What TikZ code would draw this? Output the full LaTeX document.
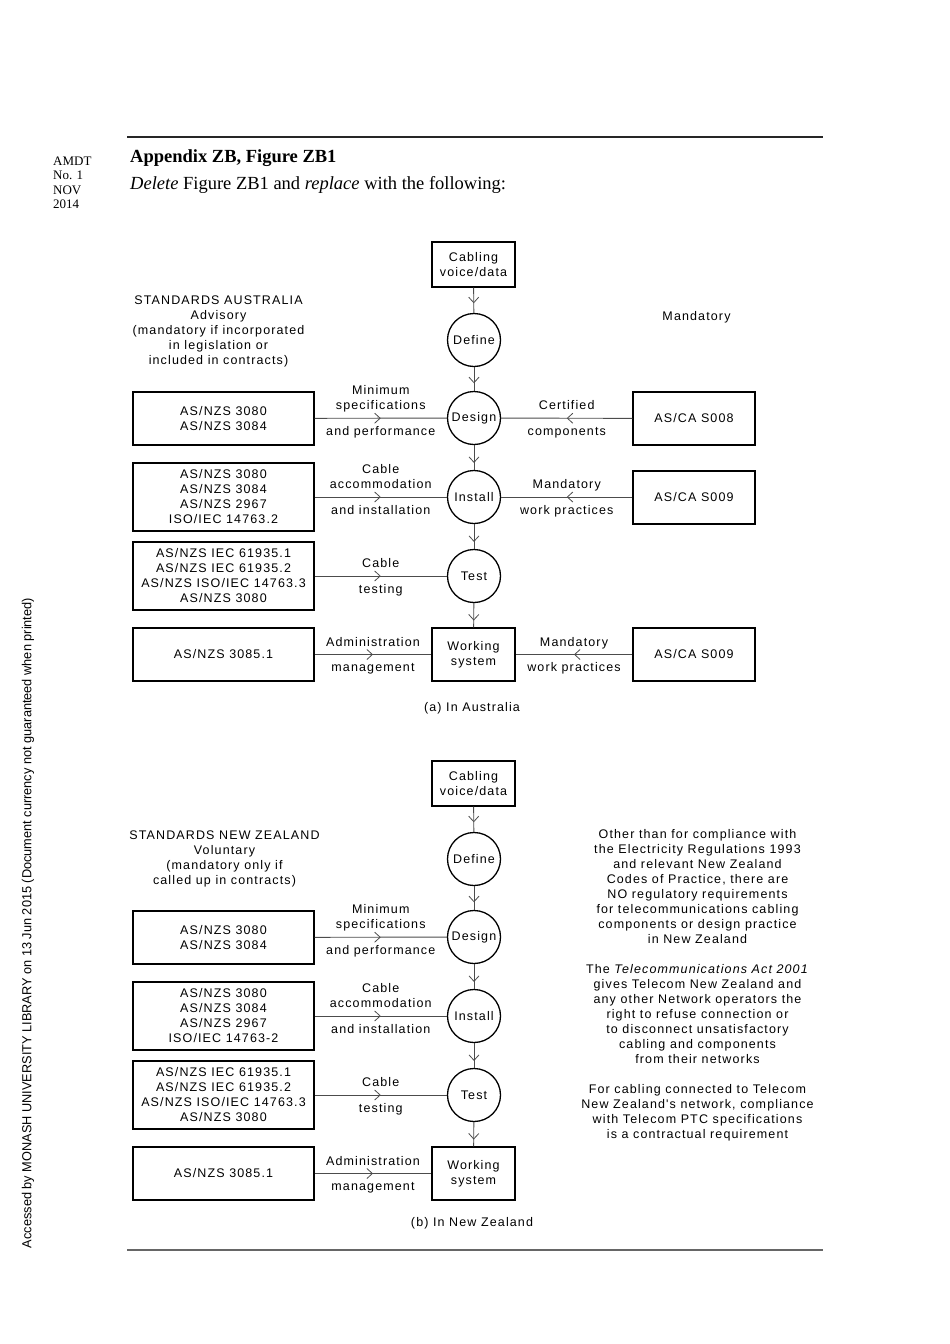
\documentclass[tikz,border=0pt]{standalone}
\usepackage{fontspec}
\setmainfont{Liberation Serif}
\newfontfamily\diag[LetterSpace=9]{Liberation Sans}
\newfontfamily\side{Liberation Sans}
\usetikzlibrary{arrows.meta,decorations.markings}
\tikzset{
  dfont/.style={font=\diag\fontsize{12.5}{15}\selectfont},
  boxnode/.style={draw=black, line width=1.3pt, dfont, align=center, inner sep=0pt},
  circnode/.style={draw=black, line width=1.3pt, circle, minimum size=53pt, inner sep=0pt, dfont},
  conn/.style={draw=black!70, line width=0.9pt},
  midarrow/.style={postaction={decorate}, decoration={markings,
     mark=at position #1 with {\arrow{Straight Barb[length=5.5pt,width=10pt,line width=0.8pt]}}}},
  lblup/.style={dfont, align=center, anchor=south, inner sep=0pt, text depth=3pt, yshift=5pt},
  lbldn/.style={dfont, anchor=north, inner sep=0pt, text height=9pt, text depth=3pt, yshift=-8pt},
  plain/.style={dfont, align=center, inner sep=0pt},
}
\begin{document}
\begin{tikzpicture}[x=1pt,y=-1pt]
\useasboundingbox (0,0) rectangle (950,1344);
% rules
\coordinate (rt1) at (127,137); \coordinate (rt2) at (823,137);
\coordinate (rb1) at (127,1250); \coordinate (rb2) at (823,1250);
\draw[line width=1.1pt, black!85] (rt1) -- (rt2);
\draw[line width=1.1pt, black!60] (rb1) -- (rb2);
% header
\node[anchor=north west, inner sep=0pt, align=left, font=\fontsize{13}{14.5}\selectfont] (amdt) at (53,156.5) {AMDT\\No. 1\\NOV\\2014};
\node[anchor=base west, inner sep=0pt, font=\fontsize{18.5}{20}\selectfont\bfseries] (title) at (130,162) {Appendix ZB, Figure ZB1};
\node[anchor=base west, inner sep=0pt, font=\fontsize{18.5}{20}\selectfont] (sub) at (130,189) {\textit{Delete} Figure ZB1 and \textit{replace} with the following:};
% side text
\node[rotate=90, inner sep=0pt, font=\side\fontsize{13}{14}\selectfont] (acc) at (28,923) {\resizebox{650pt}{9.5pt}{Accessed by MONASH UNIVERSITY LIBRARY on 13 Jun 2015 (Document currency not guaranteed when printed)}};

% ===== (a) Australia =====
\node[boxnode, minimum width=83pt, minimum height=45pt] (acab) at (473.5,264.5) {Cabling\\voice/data};
\node[circnode] (adef) at (474,340) {Define};
\node[circnode] (ades) at (474,418) {Design};
\node[circnode] (ains) at (474,497) {Install};
\node[circnode] (atst) at (474,576) {Test};
\node[boxnode, minimum width=83pt, minimum height=53pt] (aws) at (473.5,654.5) {Working\\system};
\node[boxnode, minimum width=181pt, minimum height=53pt] (al1) at (223.5,418.5) {AS/NZS 3080\\AS/NZS 3084};
\node[boxnode, minimum width=181pt, minimum height=68pt] (al2) at (223.5,497) {AS/NZS 3080\\AS/NZS 3084\\AS/NZS 2967\\ISO/IEC 14763.2};
\node[boxnode, minimum width=181pt, minimum height=68pt] (al3) at (223.5,576) {AS/NZS IEC 61935.1\\AS/NZS IEC 61935.2\\AS/NZS ISO/IEC 14763.3\\AS/NZS 3080};
\node[boxnode, minimum width=181pt, minimum height=53pt] (al4) at (223.5,654.5) {AS/NZS 3085.1};
\node[boxnode, minimum width=122pt, minimum height=53pt] (ar1) at (694,418.5) {AS/CA S008};
\node[boxnode, minimum width=122pt, minimum height=53pt] (ar2) at (694,497.5) {AS/CA S009};
\node[boxnode, minimum width=122pt, minimum height=53pt] (ar3) at (694,654.5) {AS/CA S009};
\node[plain] (ahead) at (218.5,331.5) {STANDARDS AUSTRALIA\\Advisory\\(mandatory if incorporated\\in legislation or\\included in contracts)};
\node[plain] (amand) at (696.5,317) {Mandatory};
\node[plain] (acap) at (472,708) {(a) In Australia};

\draw[conn, midarrow=0.62] (acab) -- (adef);
\draw[conn, midarrow=0.68] (adef) -- (ades);
\draw[conn, midarrow=0.72] (ades) -- (ains);
\draw[conn, midarrow=0.72] (ains) -- (atst);
\draw[conn, midarrow=0.72] (atst) -- (aws);
\draw[conn, midarrow=0.5] (al1) -- node[lblup]{Minimum\\specifications} node[lbldn]{and performance} (ades);
\draw[conn, midarrow=0.5] (al2.east |- ains) -- node[lblup]{Cable\\accommodation} node[lbldn]{and installation} (ains);
\draw[conn, midarrow=0.5] (al3) -- node[lblup]{Cable} node[lbldn]{testing} (atst);
\draw[conn, midarrow=0.5] (al4) -- node[lblup]{Administration} node[lbldn]{management} (aws);
\draw[conn, midarrow=0.5] (ar1) -- node[lblup]{Certified} node[lbldn]{components} (ades);
\draw[conn, midarrow=0.5] (ar2.west |- ains) -- node[lblup]{Mandatory} node[lbldn]{work practices} (ains);
\draw[conn, midarrow=0.5] (ar3) -- node[lblup]{Mandatory} node[lbldn]{work practices} (aws);

% ===== (b) New Zealand =====
\begin{scope}[yshift=-519pt]
\node[boxnode, minimum width=83pt, minimum height=45pt] (bcab) at (473.5,264.5) {Cabling\\voice/data};
\node[circnode] (bdef) at (474,340) {Define};
\node[circnode] (bdes) at (474,418) {Design};
\node[circnode] (bins) at (474,497) {Install};
\node[circnode] (btst) at (474,576) {Test};
\node[boxnode, minimum width=83pt, minimum height=53pt] (bws) at (473.5,654.5) {Working\\system};
\node[boxnode, minimum width=181pt, minimum height=53pt] (bl1) at (223.5,418.5) {AS/NZS 3080\\AS/NZS 3084};
\node[boxnode, minimum width=181pt, minimum height=68pt] (bl2) at (223.5,497) {AS/NZS 3080\\AS/NZS 3084\\AS/NZS 2967\\ISO/IEC 14763-2};
\node[boxnode, minimum width=181pt, minimum height=68pt] (bl3) at (223.5,576) {AS/NZS IEC 61935.1\\AS/NZS IEC 61935.2\\AS/NZS ISO/IEC 14763.3\\AS/NZS 3080};
\node[boxnode, minimum width=181pt, minimum height=53pt] (bl4) at (223.5,654.5) {AS/NZS 3085.1};
\node[plain] (bhead) at (224.5,340) {STANDARDS NEW ZEALAND\\Voluntary\\(mandatory only if\\called up in contracts)};
\node[plain] (bcap) at (472,704.5) {(b) In New Zealand};
\node[plain] (bnote) at (697.5,466) {Other than for compliance with\\the Electricity Regulations 1993\\and relevant New Zealand\\Codes of Practice, there are\\NO regulatory requirements\\for telecommunications cabling\\components or design practice\\in New Zealand\\[15pt]The \textit{Telecommunications Act 2001}\\gives Telecom New Zealand and\\any other Network operators the\\right to refuse connection or\\to disconnect unsatisfactory\\cabling and components\\from their networks\\[15pt]For cabling connected to Telecom\\New Zealand's network, compliance\\with Telecom PTC specifications\\is a contractual requirement};

\draw[conn, midarrow=0.62] (bcab) -- (bdef);
\draw[conn, midarrow=0.68] (bdef) -- (bdes);
\draw[conn, midarrow=0.72] (bdes) -- (bins);
\draw[conn, midarrow=0.72] (bins) -- (btst);
\draw[conn, midarrow=0.72] (btst) -- (bws);
\draw[conn, midarrow=0.5] (bl1) -- node[lblup]{Minimum\\specifications} node[lbldn]{and performance} (bdes);
\draw[conn, midarrow=0.5] (bl2.east |- bins) -- node[lblup]{Cable\\accommodation} node[lbldn]{and installation} (bins);
\draw[conn, midarrow=0.5] (bl3) -- node[lblup]{Cable} node[lbldn]{testing} (btst);
\draw[conn, midarrow=0.5] (bl4) -- node[lblup]{Administration} node[lbldn]{management} (bws);
\end{scope}
\end{tikzpicture}
\end{document}
